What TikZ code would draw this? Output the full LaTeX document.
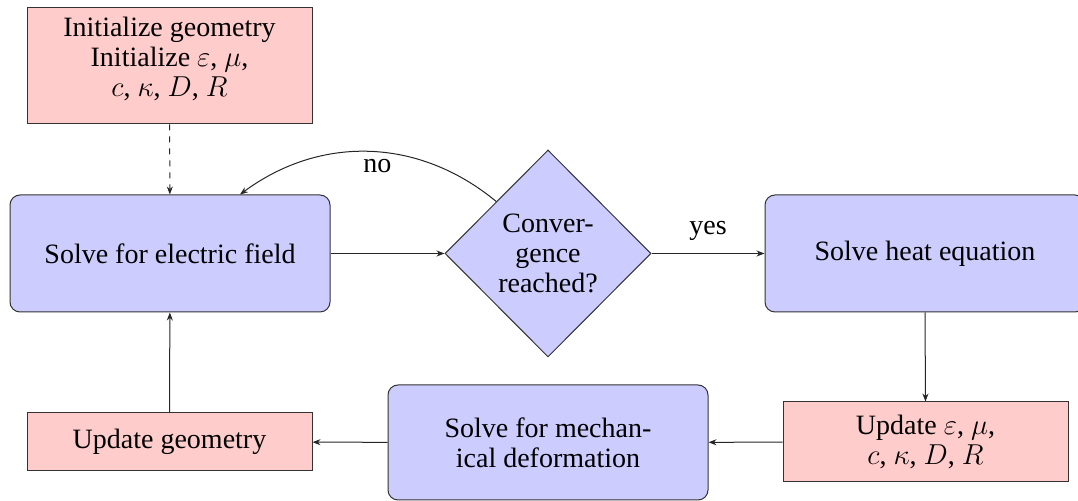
\documentclass[tikz,border=0pt]{standalone}
\usepackage{fontspec}
\setmainfont{Liberation Serif}
\usetikzlibrary{shapes.geometric,arrows.meta}
\tikzset{
  base/.style={draw=black!80, line width=0.5pt, align=center, inner sep=2pt,
    font=\fontsize{14}{15}\selectfont},
  pinkbox/.style={base, rectangle, fill=red!20, minimum width=142.5pt},
  bluebox/.style={base, rectangle, rounded corners=5pt, fill=blue!20,
    minimum width=160pt},
  decision/.style={base, diamond, aspect=1, fill=blue!20, inner sep=0pt,
    minimum width=103pt, minimum height=103.5pt},
  conn/.style={draw=black!85, line width=0.5pt, -{Stealth[length=4pt,width=3pt]}},
  lbl/.style={font=\fontsize{14}{15}\selectfont}
}
\begin{document}
\begin{tikzpicture}[x=0.5pt,y=-0.5pt]
\useasboundingbox (0,0) rectangle (1078,501);
\node[pinkbox, minimum height=58pt] (init) at (169.5,66)
  {Initialize geometry\\Initialize $\varepsilon$, $\mu$,\\$c$, $\kappa$, $D$, $R$\rule[-9pt]{0pt}{9pt}};
\node[bluebox, minimum height=58.5pt] (elec) at (170,253.5) {Solve for electric field};
\node[decision] (dia) at (548,253.5) {Conver-\\gence\\reached?};
\node[bluebox, minimum height=58.5pt] (heat) at (925,253.5) {Solve heat equation};
\node[pinkbox, minimum height=40pt] (upd) at (925.5,442) {Update $\varepsilon$, $\mu$,\\$c$, $\kappa$, $D$, $R$};
\node[bluebox, minimum height=57.5pt] (mech) at (548,442.5) {Solve for mechan-\\ical deformation};
\node[pinkbox, minimum height=29pt] (geo) at (169.5,442) {Update geometry};

\draw[conn, dashed] (init) -- (elec);
\draw[conn] (elec) -- (dia);
\draw[conn] (dia) -- node[lbl, above=3pt] {yes} (heat);
\draw[conn] (heat.south) -- (upd.north);
\draw[conn] (upd) -- (mech);
\draw[conn] (mech) -- (geo);
\draw[conn] (geo) -- (elec);
\draw[conn] (dia.north west) to[bend right=38] node[lbl, below=0pt, pos=0.47] {no} ([xshift=35pt]elec.north);
\end{tikzpicture}
\end{document}
